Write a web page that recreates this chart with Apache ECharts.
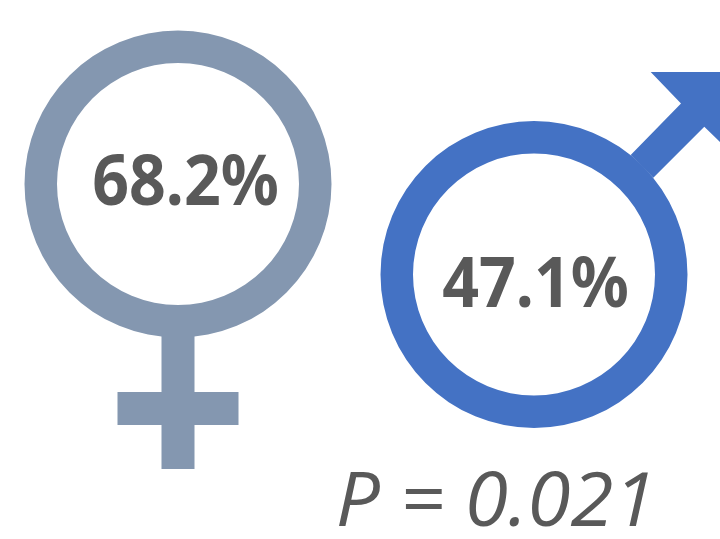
<!DOCTYPE html>
<html>
<head>
<meta charset="utf-8">
<script src="https://cdn.jsdelivr.net/npm/echarts@6/dist/echarts.min.js"></script>
<style>
  html, body { margin: 0; background: #fff; }
  #chart { width: 720px; height: 539px; }
</style>
</head>
<body>
<div id="chart"></div>
<script>
// 数据
const groups = ["Female", "Male"];
const percents = [68.2, 47.1];
const pText = "P = 0.021";

const colors = ["#8497B0", "#4472C4"];
const textColor = "#595959";
const ringY = [184, 274.5]; // 圆环中心的像素高度
const labelY = [185, 287];
const labelShift = [7.5, 1.5];

function ring(cx, cy, color) {
  return {
    type: "ring",
    shape: { cx: cx, cy: cy, r: 153.5, r0: 121 },
    style: { fill: color }
  };
}

function femaleMark(cx, cy, color) {
  return [
    ring(cx, cy, color),
    { type: "rect", shape: { x: cx - 16.5, y: cy + 148, width: 33, height: 137 }, style: { fill: color } },
    { type: "rect", shape: { x: cx - 60.5, y: cy + 208, width: 121, height: 33 }, style: { fill: color } }
  ];
}

function maleMark(cx, cy, color) {
  // 箭头被画布右边裁掉
  return [
    ring(cx, cy, color),
    {
      type: "polygon",
      shape: {
        points: [
          [cx + 96.7, cy - 119.5], [cx + 147, cy - 170.9], [cx + 116.7, cy - 202.5],
          [cx + 186, cy - 202.5], [cx + 186, cy - 132.5], [cx + 170.3, cy - 147.8],
          [cx + 119.3, cy - 96.8]
        ]
      },
      style: { fill: color }
    }
  ];
}

const chart = echarts.init(document.getElementById("chart"), null, { renderer: "canvas" });
chart.setOption({
  animation: false,
  backgroundColor: "#fff",
  grid: { left: 0, top: 0, width: 712, height: 539 },
  xAxis: { type: "category", data: groups, show: false },
  yAxis: { type: "value", min: 0, max: 100, show: false },
  series: [
    {
      type: "custom",
      silent: true,
      data: percents.map(function(v, i) { return [i, v]; }),
      renderItem: function(params, api) {
        const i = params.dataIndex;
        const cx = api.coord([api.value(0), 0])[0];
        const mark = i === 0 ? femaleMark(cx, ringY[i], colors[i]) : maleMark(cx, ringY[i], colors[i]);
        mark.push({
          type: "text",
          x: cx + labelShift[i], y: labelY[i], scaleX: 0.92,
          style: {
            text: api.value(1).toFixed(1) + "%",
            fill: textColor,
            font: "bold 70px 'Noto Sans'",
            align: "center",
            verticalAlign: "middle"
          }
        });
        return { type: "group", children: mark };
      }
    }
  ],
  graphic: [
    {
      type: "text",
      x: 496, y: 505, scaleX: 1.04,
      style: {
        text: pText,
        fill: textColor,
        font: "italic 75px 'Open Sans'",
        align: "center",
        verticalAlign: "middle"
      }
    }
  ]
});
</script>
</body>
</html>
